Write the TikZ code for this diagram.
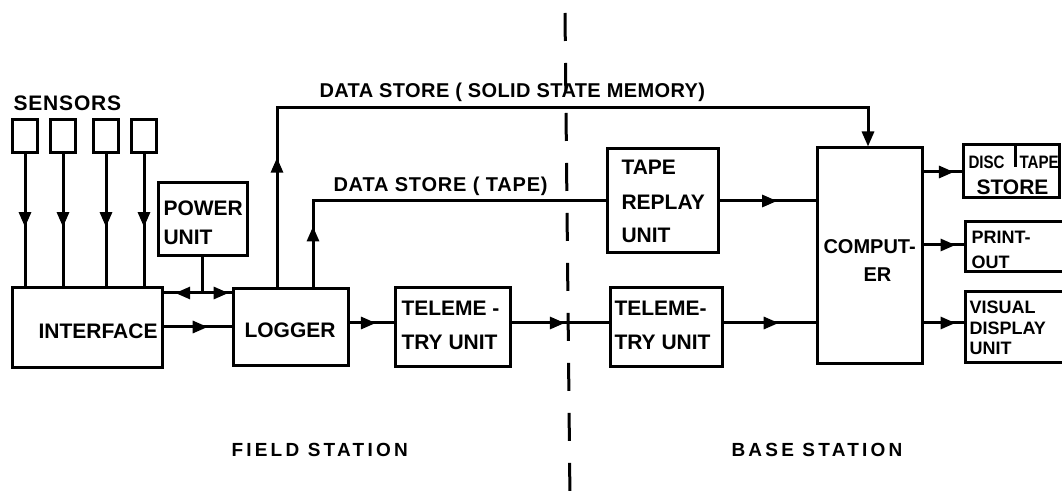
\documentclass[tikz,border=0pt]{standalone}
\usepackage{fontspec}
\setmainfont{Liberation Sans}
\newfontfamily\widefont[LetterSpace=17]{Liberation Sans}
\newfontfamily\titlefont[LetterSpace=2]{Liberation Sans}
\newfontfamily\tapefont[LetterSpace=4]{Liberation Sans}
\newfontfamily\sensfont[LetterSpace=4]{Liberation Sans}
\newfontfamily\narrowfont[FakeStretch=0.84]{Liberation Sans}
\usetikzlibrary{arrows.meta,decorations.markings}
\begin{document}
\begin{tikzpicture}[x=1pt,y=-1pt,line width=3pt,
  box/.style={draw,rectangle,inner sep=0pt,line width=3pt},
  lbl/.style={font=\fontsize{21}{24}\selectfont\bfseries,inner sep=0pt,anchor=west},
  smalllbl/.style={font=\fontsize{18}{22}\selectfont\bfseries,inner sep=0pt,anchor=west},
  narrowlbl/.style={font=\fontsize{18}{22}\selectfont\narrowfont\bfseries,inner sep=0pt,anchor=west},
  stationlbl/.style={font=\fontsize{19}{23}\selectfont\widefont\bfseries,inner sep=0pt,anchor=west},
  midarrow/.style={postaction={decorate,decoration={markings,
      mark=at position #1 with {\arrow{Triangle[length=15pt,width=12pt]}}}}},
  endtip/.style={-{Triangle[length=15pt,width=12pt]}},
  divider/.style={dash pattern=on 28pt off 22pt,line width=3pt}]
\useasboundingbox (0,0) rectangle (1062,502);

% dashed separator
\coordinate (dtop) at (565,13);
\coordinate (dbot) at (570,502);
\draw[divider] (dtop) -- (dbot);

% sensors
\node[lbl,font=\fontsize{21}{24}\selectfont\sensfont\bfseries] (sensors) at (12,103) {SENSORS};
\foreach \i/\x in {1/25,2/63,3/106,4/144}
  \node[box,minimum width=25pt,minimum height=33pt] (s\i) at (\x,136.5) {};

% boxes
\node[box,minimum width=150pt,minimum height=79pt] (interface) at (87,327.5) {};
\node[box,minimum width=89pt,minimum height=73pt] (power) at (202.5,219.5) {};
\node[box,minimum width=115pt,minimum height=77pt] (logger) at (290.5,327) {};
\node[box,minimum width=115pt,minimum height=78pt] (tel1) at (452.5,327) {};
\node[box,minimum width=112pt,minimum height=78pt] (tel2) at (666,327) {};
\node[box,minimum width=111pt,minimum height=104pt] (tape) at (662.5,201) {};
\node[box,minimum width=105pt,minimum height=215pt] (computer) at (869.5,255.5) {};
\node[box,minimum width=96pt,minimum height=53pt] (disc) at (1011,171.5) {};
\node[box,minimum width=103pt,minimum height=50pt] (print) at (1016.5,247) {};
\node[box,minimum width=103pt,minimum height=70pt] (vdu) at (1016.5,327) {};
\coordinate (dsplit) at (1015,167);
\draw (disc.north -| dsplit) -- (dsplit);

% box texts
\node[lbl] (tinterface) at (37,331) {INTERFACE};
\node[lbl] (tpower1) at (162,208) {POWER};
\node[lbl] (tpower2) at (162,237) {UNIT};
\node[lbl] (tlogger) at (243,330) {LOGGER};
\node[lbl] (ttelA1) at (400,308) {TELEME -};
\node[lbl] (ttelA2) at (400,342) {TRY UNIT};
\node[lbl] (ttelB1) at (613,308) {TELEME-};
\node[lbl] (ttelB2) at (613,342) {TRY UNIT};
\node[lbl] (ttape1) at (620,167) {TAPE};
\node[lbl] (ttape2) at (620,202) {REPLAY};
\node[lbl] (ttape3) at (620,235) {UNIT};
\node[lbl,font=\fontsize{20}{24}\selectfont\bfseries] (tcomp1) at (822,247) {COMPUT-};
\node[lbl,font=\fontsize{20}{24}\selectfont\bfseries] (tcomp2) at (862,275) {ER};
\node[narrowlbl] (tdisc1) at (967,162) {DISC};
\node[narrowlbl] (tdisc2) at (1018,162) {TAPE};
\node[lbl] (tdisc3) at (975,187) {STORE};
\node[smalllbl] (tprint1) at (970,237) {PRINT-};
\node[smalllbl] (tprint2) at (970,262) {OUT};
\node[smalllbl] (tvdu1) at (968,307) {VISUAL};
\node[smalllbl] (tvdu2) at (968,328) {DISPLAY};
\node[smalllbl] (tvdu3) at (968,348) {UNIT};

% other labels
\node[lbl,font=\fontsize{20}{24}\selectfont\titlefont\bfseries] (lsolid) at (318,92) {DATA STORE ( SOLID STATE MEMORY)};
\node[lbl,font=\fontsize{20}{24}\selectfont\tapefont\bfseries] (ltape) at (332,186) {DATA STORE ( TAPE)};
\node[stationlbl] (lfield) at (230,450) {FIELD STATION};
\node[stationlbl] (lbase) at (730,450) {BASE STATION};

% sensor connectors
\foreach \i in {1,...,4}
  \draw[midarrow=0.55] (s\i.south) -- (s\i.south |- interface.north);

% power unit junction
\coordinate (jy) at (0,293);
\coordinate (jj) at (power.south |- jy);
\draw (power.south) -- (jj);
\draw[midarrow=0.7] (jj) -- (jj -| interface.east);
\draw[midarrow=0.9] (jj) -- (jj -| logger.west);

% main chain
\coordinate (yil) at (0,327);
\coordinate (ylt) at (0,323);
\draw[midarrow=0.65] (interface.east |- yil) -- (logger.west |- yil);
\draw[midarrow=0.6] (logger.east |- ylt) -- (tel1.west |- ylt);
\draw[midarrow=0.55] (tel1.east |- ylt) -- (tel2.west |- ylt);
\draw[midarrow=0.6] (tel2.east |- ylt) -- (computer.west |- ylt);
\draw[midarrow=0.6] (tape.east) -- (tape.east -| computer.west);

% data store lines
\coordinate (ssx) at (277,0);
\coordinate (ssy) at (0,108);
\coordinate (cx) at (868,0);
\draw[endtip,postaction={decorate,decoration={markings,
      mark=at position 0.16 with {\arrow{Triangle[length=15pt,width=12pt]}}}}]
  (logger.north -| ssx) -- (ssx |- ssy) -- (cx |- ssy) -- (cx |- computer.north);
\coordinate (tx) at (313,0);
\draw[midarrow=0.16] (logger.north -| tx) -- (tx |- tape.west) -- (tape.west);

% outputs
\coordinate (yo1) at (0,172);
\coordinate (yo2) at (0,245);
\coordinate (yo3) at (0,323);
\draw[midarrow=0.8] (computer.east |- yo1) -- (disc.west |- yo1);
\draw[midarrow=0.8] (computer.east |- yo2) -- (print.west |- yo2);
\draw[midarrow=0.8] (computer.east |- yo3) -- (vdu.west |- yo3);
\end{tikzpicture}
\end{document}
